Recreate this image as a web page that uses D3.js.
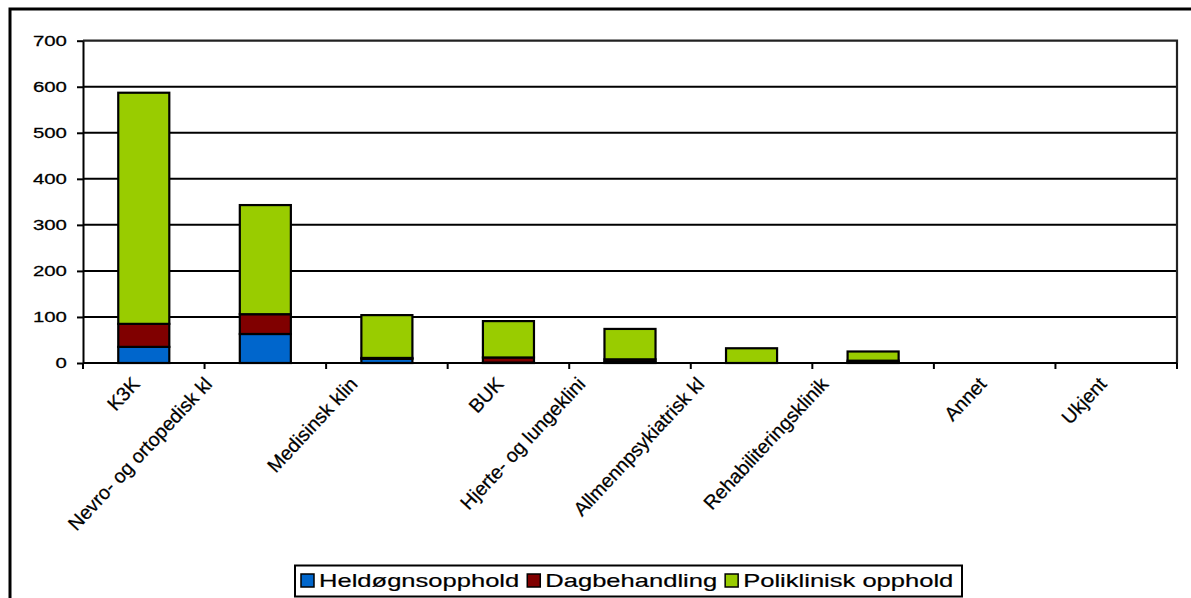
<!DOCTYPE html>
<html><head><meta charset="utf-8">
<script src="https://cdn.jsdelivr.net/npm/d3@7"></script>
<style>
body{margin:0;background:#fff}
svg{display:block}
text{font-family:"Liberation Sans",Arial,sans-serif;fill:#000}
</style>
</head><body>
<svg id="c" width="1191" height="598"></svg>
<script>
// ---- data ----
const categories = ["K3K","Nevro- og ortopedisk kl","Medisinsk klin","BUK","Hjerte- og lungeklini","Allmennpsykiatrisk kl","Rehabiliteringsklinik","Annet","Ukjent"];
const seriesNames = ["Heldøgnsopphold","Dagbehandling","Poliklinisk opphold"];
const heldogn = [35, 63, 9, 1, 3, 0, 2, 0, 0];
const dagbehandling = [50, 43, 2, 11, 5, 0, 3, 0, 0];
const poliklinisk = [502, 237, 93, 79, 66, 32, 20, 0, 0];
const yTicks = [0, 100, 200, 300, 400, 500, 600, 700];
const colors = ["#0066CC", "#800000", "#99CC00"];

// ---- layout ----
const W = 1191, H = 598;
const plot = {left: 83, right: 1177, top: 40.7, bottom: 363};
const svg = d3.select("#c");

const x = d3.scaleBand().domain(categories).range([plot.left, plot.right])
  .paddingInner(0.58).paddingOuter(0.29);
const y = d3.scaleLinear().domain([0, 700]).range([plot.bottom, plot.top]);

// outer frame
svg.append("path").attr("d", `M10,${H + 5} V9 H${W + 5}`)
  .attr("fill", "none").attr("stroke", "#000").attr("stroke-width", 3);

// gridlines
svg.append("g").selectAll("line").data(yTicks.filter(d => d > 0 && d < 700)).join("line")
  .attr("x1", plot.left).attr("x2", plot.right)
  .attr("y1", d => y(d)).attr("y2", d => y(d))
  .attr("stroke", "#000").attr("stroke-width", 2);

// plot frame top/right
svg.append("path").attr("d", `M${plot.left},${y(700)} H${plot.right} V${plot.bottom}`)
  .attr("fill", "none").attr("stroke", "#222").attr("stroke-width", 2.2);

// bars
const table = categories.map((c, i) => ({cat: c, h: heldogn[i], d: dagbehandling[i], p: poliklinisk[i]}));
const stacked = d3.stack().keys(["h", "d", "p"])(table);
svg.append("g").selectAll("g").data(stacked).join("g")
  .attr("fill", (d, i) => colors[i])
  .selectAll("rect").data(d => d.filter(s => s[1] - s[0] > 0)).join("rect")
  .attr("x", d => x(d.data.cat)).attr("width", x.bandwidth())
  .attr("y", d => y(d[1])).attr("height", d => y(d[0]) - y(d[1]))
  .attr("stroke", "#000").attr("stroke-width", 2.2);

// left axis
const sx = 1.36;
const yAxis = svg.append("g").attr("transform", `translate(${plot.left},0)`)
  .call(d3.axisLeft(y).tickValues(yTicks).tickSize(6).tickPadding(5.8).tickSizeOuter(0));
yAxis.select(".domain").attr("stroke", "#000").attr("stroke-width", 2);
yAxis.selectAll(".tick line").attr("stroke", "#000").attr("stroke-width", 2);
yAxis.selectAll(".tick text")
  .attr("font-size", 15).attr("font-family", '"Liberation Sans",Arial,sans-serif')
  .attr("fill", "#000").attr("stroke", "#000").attr("stroke-width", 0.25)
  .attr("transform", `scale(${sx},1)`);

// bottom axis
const step = x.step();
const bounds = categories.map(c => x(c) - (step - x.bandwidth()) / 2).concat([plot.right]);
svg.append("line").attr("x1", plot.left).attr("x2", plot.right)
  .attr("y1", plot.bottom).attr("y2", plot.bottom).attr("stroke", "#000").attr("stroke-width", 2.2);
svg.append("g").selectAll("line").data(bounds).join("line")
  .attr("x1", d => d).attr("x2", d => d).attr("y1", plot.bottom).attr("y2", plot.bottom + 6)
  .attr("stroke", "#000").attr("stroke-width", 2);

// category labels (rotated)
const labelG = svg.append("g");
categories.forEach(c => {
  const t = labelG.append("text").text(c).attr("font-size", 19.5).attr("text-anchor", "end")
    .attr("stroke", "#000").attr("stroke-width", 0.25);
  const L = t.node().getComputedTextLength();
  const cx = x(c) + x.bandwidth() / 2 - 3 - 0.3 * Math.max(0, L - 37);
  t.attr("transform", `translate(${cx},385) rotate(-47)`);
});

// legend
const lg = svg.append("g");
lg.append("rect").attr("x", 295).attr("y", 565.5).attr("width", 667).attr("height", 31)
  .attr("fill", "#fff").attr("stroke", "#000").attr("stroke-width", 2);
let cur = 301;
const lsx = 1.42;
seriesNames.forEach((name, i) => {
  lg.append("rect").attr("x", cur).attr("y", 574).attr("width", 13).attr("height", 13)
    .attr("fill", colors[i]).attr("stroke", "#000").attr("stroke-width", 1.5);
  const t = lg.append("text").text(name).attr("font-size", 18)
    .attr("stroke", "#000").attr("stroke-width", 0.2)
    .attr("transform", `translate(${cur + 18},587) scale(${lsx},1)`);
  const w = t.node().getComputedTextLength() * lsx;
  cur += 18 + w + 8;
});
</script>
</body></html>
